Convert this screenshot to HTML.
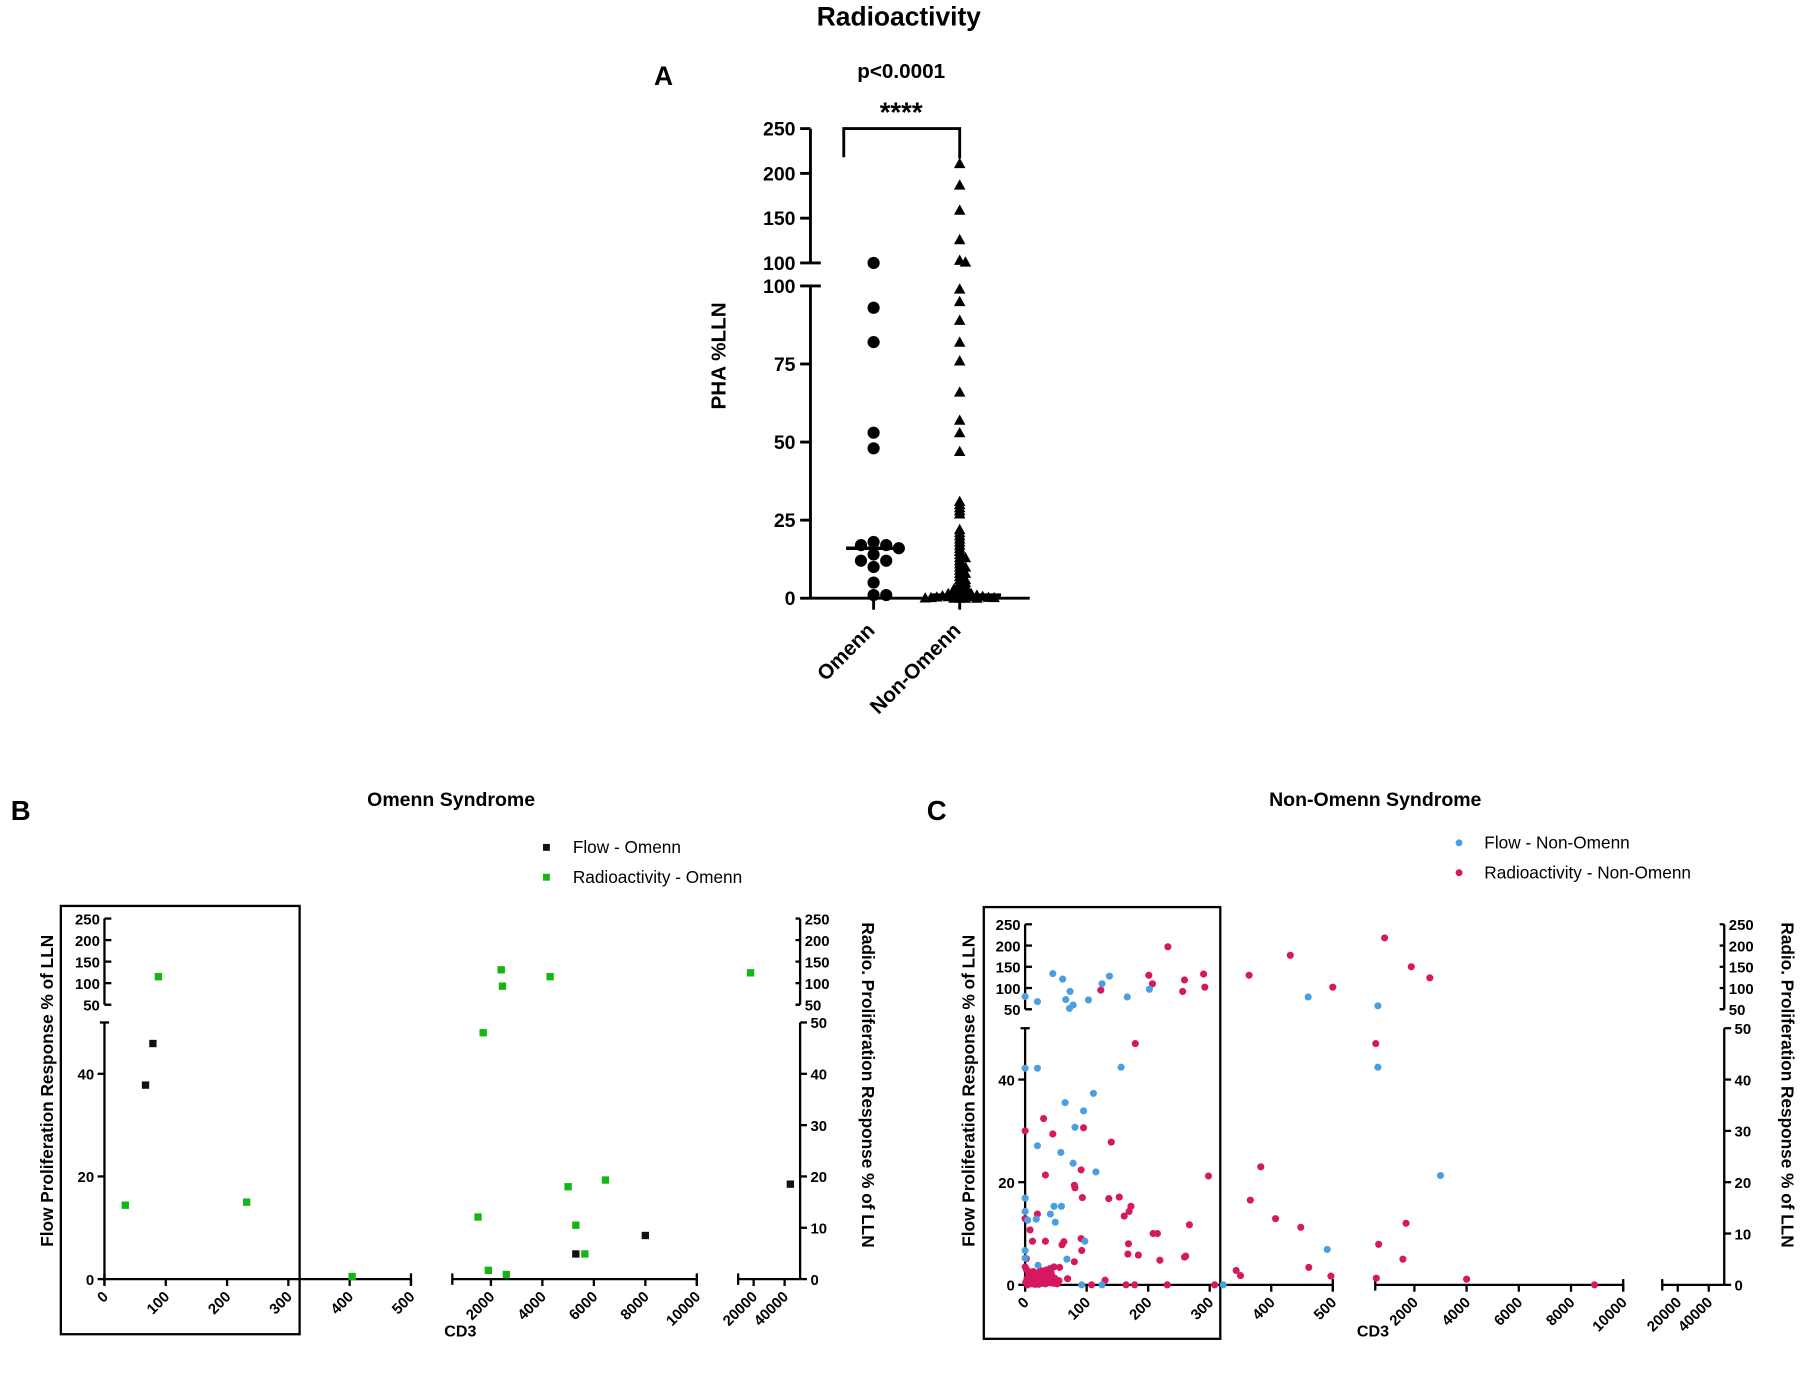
<!DOCTYPE html>
<html><head><meta charset="utf-8">
<style>
html,body{margin:0;padding:0;background:#fff;}
svg{display:block;font-family:"Liberation Sans",Arial,sans-serif;}
</style></head>
<body>
<svg id="fig" width="1800" height="1379" viewBox="0 0 1568 1201" preserveAspectRatio="none" xmlns="http://www.w3.org/2000/svg">
<rect width="1568" height="1201" fill="#fff"/>
<text x="783" y="22" text-anchor="middle" font-size="23" font-weight="bold">Radioactivity</text>
<text x="578" y="74" text-anchor="middle" font-size="23" font-weight="bold">A</text>
<text x="785" y="68" text-anchor="middle" font-size="18" font-weight="bold">p&lt;0.0001</text>
<text x="785" y="106" text-anchor="middle" font-size="24" font-weight="bold">****</text>
<path d="M735 137 V112 H836 V138" fill="none" stroke="#000" stroke-width="2.5"/>
<text transform="translate(632,310) rotate(-90)" text-anchor="middle" font-size="18" font-weight="bold">PHA %LLN</text>
<g id="pa"></g>
<text x="18" y="714" text-anchor="middle" font-size="24" font-weight="bold">B</text>
<text x="393" y="702" text-anchor="middle" font-size="17" font-weight="bold">Omenn Syndrome</text>
<rect x="473" y="735" width="6" height="6" fill="#111"/>
<text x="499" y="743" font-size="15">Flow - Omenn</text>
<rect x="473" y="761" width="6" height="6" fill="#13b613"/>
<text x="499" y="769" font-size="15">Radioactivity -  Omenn</text>
<rect x="53" y="789" width="208" height="373" fill="none" stroke="#000" stroke-width="2"/>
<text transform="translate(46,950) rotate(-90)" text-anchor="middle" font-size="15" font-weight="bold">Flow Proliferation Response % of LLN</text>
<text transform="translate(751,945) rotate(90)" text-anchor="middle" font-size="15" font-weight="bold">Radio. Proliferation Response % of LLN</text>
<text x="401" y="1164" text-anchor="middle" font-size="14" font-weight="bold">CD3</text>
<g id="pb"></g>
<text x="816" y="714" text-anchor="middle" font-size="24" font-weight="bold">C</text>
<text x="1198" y="702" text-anchor="middle" font-size="17" font-weight="bold">Non-Omenn Syndrome</text>
<circle cx="1271" cy="734" r="3" fill="#4a9fe0"/>
<text x="1293" y="739" font-size="15">Flow -  Non-Omenn</text>
<circle cx="1271" cy="760" r="3" fill="#d6195e"/>
<text x="1293" y="765" font-size="15">Radioactivity - Non-Omenn</text>
<rect x="857" y="790" width="206" height="376" fill="none" stroke="#000" stroke-width="2"/>
<text transform="translate(849,950) rotate(-90)" text-anchor="middle" font-size="15" font-weight="bold">Flow Proliferation Response % of LLN</text>
<text transform="translate(1552,945) rotate(90)" text-anchor="middle" font-size="15" font-weight="bold">Radio. Proliferation Response % of LLN</text>
<text x="1196" y="1164" text-anchor="middle" font-size="14" font-weight="bold">CD3</text>
<g id="pc"></g>
</svg>
<script>
// ---------- Panel A data ----------
const aCategories = ["Omenn", "Non-Omenn"];
const aOmenn = [100, 93, 82, 53, 48, 18, 17, 17, 16, 14, 12, 12, 10, 5, 1, 1];
const aNonOmenn = [211, 187, 159, 126, 103, 101, 99, 95, 89, 82, 76, 66, 57, 53, 47, 31, 30, 29, 28, 27, 22, 21, 20, 19, 18, 17, 16, 15, 14, 13, 13, 12, 11, 10, 10, 9, 8, 8, 7, 6, 6, 5, 5, 4, 4, 3, 3, 3, 2, 2, 2, 1.5, 1.5, 1, 1, 1, 1, 0.8, 0.6, 0.5, 0.5, 0.4, 0.3, 0.2, 0.2, 0.1, 0, 0, 0, 0];
const aMedians = [16, 1];
const aTicksLower = [0, 25, 50, 75, 100];
const aTicksUpper = [100, 150, 200, 250];

// ---------- Panel B data (CD3, % LLN) ----------
const bFlowX = [67, 79, 5300, 8000, 43700];
const bFlowY = [37.8, 45.9, 4.9, 8.5, 18.5];
const bRadioX = [34, 88, 232, 404, 1700, 2400, 2450, 4300, 1500, 1900, 2600, 5000, 5300, 5650, 6450, 18000];
const bRadioY = [14.4, 115, 15, 0.5, 48, 131, 93, 115, 12.1, 1.7, 0.9, 18, 10.5, 4.9, 19.3, 124];

// ---------- Panel C data ----------
const cFlowX = [0, 20, 45, 61, 66, 73, 78, 72, 103, 125, 137, 166, 202, 460, 600, 0, 20, 156, 600, 111, 65, 95, 81, 20, 58, 78, 115, 3000, 0, 47, 59, 41, 0, 4, 18, 49, 97, 0, 68, 0, 491, 92, 125, 322, 21];
const cFlowY = [80, 68, 134, 121, 73, 92, 60, 52, 72, 110, 128, 79, 97, 79, 58, 42.2, 42.2, 42.4, 42.4, 37.3, 35.5, 33.9, 30.7, 27.1, 25.8, 23.7, 22, 21.3, 16.9, 15.3, 15.3, 13.8, 14.3, 12.6, 12.8, 12.2, 8.5, 6.7, 5, 5.2, 6.9, 0, 0, 0, 3.8];
const cRadioX = [232, 431, 860, 1880, 2590, 201, 207, 290, 292, 259, 256, 364, 123, 500, 520, 179, 0, 30, 45, 95, 140, 383, 33, 91, 298, 80, 81, 93, 136, 153, 366, 20, 172, 161, 169, 407, 1680, 267, 208, 215, 0, 8, 12, 33, 91, 448, 630, 168, 60, 63, 92, 167, 184, 80, 219, 259, 261, 1560, 461, 47, 56, 343, 350, 497, 4000, 540, 8900, 231, 308, 108, 130, 164, 178, 69, 36, 43, 2, 0,
  1, 3, 5, 6, 8, 10, 11, 13, 14, 15, 17, 18, 20, 21, 22, 24, 25, 27, 28, 30, 32, 33, 35, 37, 38, 40, 42, 44, 46, 48, 50, 52, 55, 2, 7, 12, 16, 23, 29, 34, 41, 4, 9];
const cRadioY = [197, 177, 218, 150, 124, 130, 110, 133, 102, 119, 92, 130, 95, 102, 47, 47, 30, 32.4, 29.4, 30.6, 27.8, 23, 21.4, 22.4, 21.2, 19.4, 18.9, 17, 16.8, 17.1, 16.5, 13.8, 15.3, 13.4, 14.3, 12.9, 12, 11.7, 10, 10, 12.9, 10.7, 8.5, 8.5, 9, 11.2, 7.9, 8, 7.8, 8.4, 6.7, 6, 5.8, 4.5, 4.8, 5.4, 5.6, 5, 3.4, 3.5, 3.4, 2.8, 1.8, 1.7, 1.1, 1.3, 0, 0, 0, 0, 0.9, 0, 0, 1.2, 2, 1.9, 5.1, 3.5,
  0.5, 1.2, 0.3, 2.1, 0.8, 1.6, 0.2, 2.6, 1.0, 0.4, 1.8, 0.6, 2.3, 1.4, 0.1, 0.9, 2.8, 0.3, 1.5, 0.7, 2.0, 0.2, 1.1, 0.5, 1.7, 0.4, 2.4, 0.9, 0.3, 1.3, 0.6, 0.2, 0.8, 3.0, 2.5, 1.9, 0.1, 1.0, 0.7, 2.9, 3.2, 0.0, 1.6];
const xTicks1 = [0, 100, 200, 300, 400, 500];
const xTicks2 = [2000, 4000, 6000, 8000, 10000];
const xTicks3 = [20000, 40000];
const yTicksLower = [0, 20, 40];
const yTicksUpper = [50, 100, 150, 200, 250];
const yTicksLowerR = [0, 10, 20, 30, 40, 50];

const NS = "http://www.w3.org/2000/svg";
function mk(parent, tag, attrs) {
  const e = document.createElementNS(NS, tag);
  for (const k in attrs) e.setAttribute(k, attrs[k]);
  parent.appendChild(e);
  return e;
}
function line(g, x1, y1, x2, y2, w, name) {
  const e = mk(g, "line", {x1: x1, y1: y1, x2: x2, y2: y2, stroke: "#000", "stroke-width": w || 2});
  
  
  return e;
}
function txt(g, x, y, s, attrs, name) {
  const e = mk(g, "text", Object.assign({x: x, y: y}, attrs));
  e.textContent = s;
  
  
  return e;
}

// ================= Panel A =================
(function () {
  const g = document.getElementById("pa");
  const ax = 706, x0 = 706, x1 = 897;
  const yL = v => 521 - v * 2.72;
  const yU = v => 229 - (v - 100) * 0.78;
  const yv = v => v >= 100 ? yU(v) : yL(v);
  const catX = [761, 836];
  line(g, ax, 112, ax, 229, 2.5, 'y-axis-upper-a');
  line(g, ax, 249, ax, 521, 2.5, 'y-axis-lower-a');
  line(g, x0, 521, x1, 521, 2.5, 'x-axis-a');
  aTicksUpper.forEach(t => { line(g, ax - 9, yU(t), ax, yU(t), 2.5, 'y-tick-a'); txt(g, ax - 13, yU(t) + 6, t, {"text-anchor": "end", "font-size": 17, "font-weight": "bold"}); });
  aTicksLower.forEach(t => { line(g, ax - 9, yL(t), ax + (t === 100 ? 9 : 0), yL(t), 2.5, 'y-tick-a'); txt(g, ax - 13, yL(t) + 6, t, {"text-anchor": "end", "font-size": 17, "font-weight": "bold"}); });
  line(g, ax, yU(100), ax + 9, yU(100), 2.5, 'y-break-a');
  aCategories.forEach((c, i) => {
    line(g, catX[i], 521, catX[i], 531, 2.5, 'x-tick-a');
    txt(g, 0, 0, c, {"text-anchor": "end", "font-size": 18, "font-weight": "bold", transform: "translate(" + (catX[i] + 2) + "," + 550 + ") rotate(-45)"}, 'category-label');
  });
  function swarm(vals, cx, dx, dy) {
    const placed = [];
    const sorted = vals.slice().sort((a, b) => b - a);
    sorted.forEach(v => {
      const y = yv(v);
      for (let k = 0; k < 200; k++) {
        const off = k === 0 ? 0 : (k % 2 ? 1 : -1) * Math.ceil(k / 2) * dx;
        const x = cx + off;
        if (!placed.some(p => Math.abs(p[0] - x) < dx && Math.abs(p[1] - y) < dy)) { placed.push([x, y]); break; }
      }
    });
    return placed;
  }
  swarm(aOmenn, catX[0], 11, 9).forEach(p => {
    const c = mk(g, "circle", {cx: p[0], cy: p[1], r: 5.3, fill: "#000"});
    
    
  });
  swarm(aNonOmenn, catX[1], 5, 2.5).forEach(p => {
    const t = mk(g, "polygon", {points: (p[0]) + "," + (p[1] - 5) + " " + (p[0] - 5) + "," + (p[1] + 4) + " " + (p[0] + 5) + "," + (p[1] + 4), fill: "#000"});
    
    
  });
  [[737, 787], [812, 872]].forEach((r, i) => {
    line(g, r[0], yL(aMedians[i]), r[1], yL(aMedians[i]), 3, 'median-line');
  });
})();

// ================= Panels B & C =================
function scatterPanel(gid, cfg, flowX, flowY, radioX, radioY, flowColor, radioColor, square) {
  const g = document.getElementById(gid);
  const segs = cfg.segs;
  function xs(v) {
    for (let i = 0; i < segs.length; i++) {
      const s = segs[i];
      if (v <= s.d1 || i === segs.length - 1) return s.r0 + (v - s.d0) / (s.d1 - s.d0) * (s.r1 - s.r0);
    }
  }
  const yL = v => cfg.y0 - v * cfg.ls;
  const yU = v => cfg.u50 - (v - 50) * cfg.us;
  const ys = v => v > 50 ? yU(v) : yL(v);
  const top = yL(50);
  line(g, cfg.ax, yU(250), cfg.ax, yU(50), 2, 'y-axis-upper-left');
  line(g, cfg.ax, top, cfg.ax, cfg.y0, 2, 'y-axis-lower-left');
  line(g, cfg.ax - 4, top, cfg.ax + 4, top, 2, 'y-break-cap');
  line(g, cfg.ax, yU(50), cfg.ax + 5, yU(50), 2, 'y-break-cap');
  yTicksUpper.forEach(t => { line(g, cfg.ax, yU(t), cfg.ax + 6, yU(t), 2, 'y-tick'); txt(g, cfg.ax - 4, yU(t) + 5, t, {"text-anchor": "end", "font-size": 13, "font-weight": "bold"}); });
  yTicksLower.forEach(t => { line(g, cfg.ax - 6, yL(t), cfg.ax, yL(t), 2, 'y-tick'); txt(g, cfg.ax - 9, yL(t) + 5, t, {"text-anchor": "end", "font-size": 13, "font-weight": "bold"}); });
  line(g, cfg.rx, yU(250), cfg.rx, yU(50), 2, 'y-axis-upper-right');
  line(g, cfg.rx, top, cfg.rx, cfg.y0, 2, 'y-axis-lower-right');
  line(g, cfg.rx - 4, yU(50), cfg.rx, yU(50), 2, 'y-break-cap');
  yTicksUpper.forEach(t => { line(g, cfg.rx - 4, yU(t), cfg.rx, yU(t), 2, 'y-tick-right'); txt(g, cfg.rx + 4, yU(t) + 5, t, {"font-size": 13, "font-weight": "bold"}); });
  yTicksLowerR.forEach(t => { line(g, cfg.rx, yL(t), cfg.rx + 6, yL(t), 2, 'y-tick-right'); txt(g, cfg.rx + 9, yL(t) + 5, t, {"font-size": 13, "font-weight": "bold"}); });
  segs.forEach(s => {
    line(g, s.r0, cfg.y0, Math.min(s.r1, cfg.rx), cfg.y0, 2, 'x-axis-segment');
    line(g, s.r0, cfg.y0 - 5, s.r0, cfg.y0 + 5, 2, 'x-axis-cap');
    if (s.r1 < cfg.rx - 2) line(g, s.r1, cfg.y0 - 5, s.r1, cfg.y0 + 5, 2, 'x-axis-cap');
  });
  [xTicks1, xTicks2, xTicks3].forEach(ticks => ticks.forEach(t => {
    const x = xs(t);
    line(g, x, cfg.y0, x, cfg.y0 + 6, 2, 'x-tick');
    txt(g, 0, 0, t, {"text-anchor": "end", "font-size": 13, "font-weight": "bold", transform: "translate(" + (x + 4) + "," + (cfg.y0 + 16) + ") rotate(-45)"}, 'x-tick-label');
  }));
  function pts(X, Y, color, name) {
    const n = Math.min(X.length, Y.length);
    for (let i = 0; i < n; i++) {
      const x = xs(X[i]), y = ys(Y[i]);
      let e;
      if (square) e = mk(g, "rect", {x: x - 3.2, y: y - 3.2, width: 6.4, height: 6.4, fill: color});
      else e = mk(g, "circle", {cx: x, cy: y, r: 3.1, fill: color});
      
      
    }
  }
  pts(radioX, radioY, radioColor, 'radio-point');
  pts(flowX, flowY, flowColor, 'flow-point');
}
scatterPanel("pb", {
  ax: 91, rx: 697, y0: 1114, ls: 4.47, u50: 875, us: 0.375,
  segs: [{d0: 0, d1: 500, r0: 91, r1: 358}, {d0: 500, d1: 10000, r0: 394, r1: 607}, {d0: 10000, d1: 50000, r0: 643, r1: 697}]
}, bFlowX, bFlowY, bRadioX, bRadioY, "#111", "#13b613", true);
scatterPanel("pc", {
  ax: 893, rx: 1502, y0: 1119, ls: 4.47, u50: 879, us: 0.37,
  segs: [{d0: 0, d1: 500, r0: 893, r1: 1161}, {d0: 500, d1: 10000, r0: 1198, r1: 1414}, {d0: 10000, d1: 50000, r0: 1448, r1: 1502}]
}, cFlowX, cFlowY, cRadioX, cRadioY, "#4a9fe0", "#d6195e", false);
</script>
</body></html>
